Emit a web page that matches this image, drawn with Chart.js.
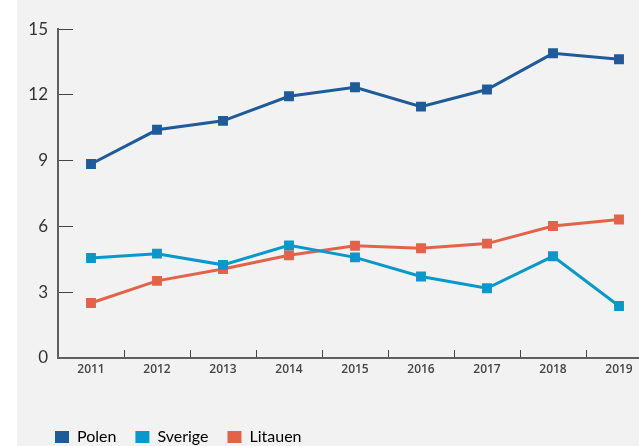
<!DOCTYPE html>
<html>
<head>
<meta charset="utf-8">
<script src="https://cdn.jsdelivr.net/npm/chart.js@4/dist/chart.umd.min.js"></script>
<style>
  html, body { margin: 0; padding: 0; background: #fff; overflow: hidden; width: 639px; height: 446px; }
  #bg { position: absolute; left: 17px; top: 0; width: 622px; height: 446px; background: #f2f2f2; }
  #wrap { position: absolute; left: 0; top: -6px; width: 660px; height: 461px; }
</style>
</head>
<body>
<div id="bg"></div>
<div id="wrap"><canvas id="chart"></canvas></div>
<script>
// data
const years = ['2011', '2012', '2013', '2014', '2015', '2016', '2017', '2018', '2019'];
const polen = [8.85, 10.41, 10.82, 11.94, 12.35, 11.47, 12.25, 13.9, 13.63];
const sverige = [4.56, 4.76, 4.25, 5.14, 4.59, 3.72, 3.18, 4.64, 2.37];
const litauen = [2.51, 3.52, 4.06, 4.69, 5.12, 5.01, 5.22, 6.02, 6.32];

const seriesNames = ['Polen', 'Sverige', 'Litauen'];
const colors = ['#1f5a99', '#0a98ca', '#e1644a'];

function makeSet(i, values) {
    return {
        label: seriesNames[i],
        data: values,
        borderColor: colors[i],
        backgroundColor: colors[i],
        borderWidth: 3,
        pointStyle: 'rect',
        pointRadius: 7,
        pointBorderWidth: 0,
        pointHoverRadius: 7,
        tension: 0
    };
}

// legend starts under the y axis, not at the canvas edge
const legendShift = {
    id: 'legendShift',
    afterLayout(chart) {
        if (chart.legend) chart.legend.left = chart.chartArea.left - 22;
    }
};

const ctx = document.getElementById('chart').getContext('2d');
new Chart(ctx, {
    type: 'line',
    data: {
        labels: years,
        datasets: [makeSet(0, polen), makeSet(1, sverige), makeSet(2, litauen)]
    },
    plugins: [legendShift],
    options: {
        responsive: true,
        maintainAspectRatio: false,
        animation: false,
        layout: { padding: { left: 8, top: 0, right: 8, bottom: 0 } },
        plugins: {
            tooltip: { enabled: false },
            legend: {
                position: 'bottom',
                align: 'start',
                labels: {
                    boxWidth: 14,
                    boxHeight: 12,
                    padding: 19,
                    color: '#333',
                    font: { family: 'Lato', size: 16 },
                    generateLabels: (chart) => chart.data.datasets.map((d, i) => ({
                        text: d.label,
                        fillStyle: d.backgroundColor,
                        strokeStyle: d.backgroundColor,
                        lineWidth: 0,
                        hidden: false,
                        datasetIndex: i
                    }))
                }
            }
        },
        scales: {
            x: {
                offset: true,
                grid: { offset: true, drawOnChartArea: false, tickLength: -8, color: '#444', lineWidth: 1 },
                border: { color: '#5f5f5f', width: 2 },
                ticks: { padding: 12, color: '#444', font: { family: 'Open Sans', size: 12, weight: '600' } },
                afterFit: (s) => { s.height = 52; }
            },
            y: {
                min: 0,
                max: 15,
                grid: { drawOnChartArea: false, tickLength: -15, color: '#444', lineWidth: 1 },
                border: { color: '#5f5f5f', width: 2 },
                ticks: { stepSize: 3, padding: 25, color: '#333', font: { family: 'Lato', size: 17 } },
                afterFit: (s) => { s.width = 50; }
            }
        }
    }
});
</script>
</body>
</html>
